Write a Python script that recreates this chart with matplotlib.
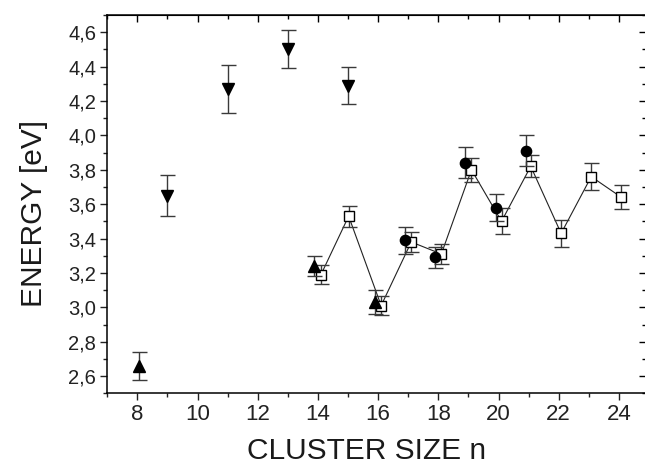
import matplotlib
matplotlib.use('Agg')
import matplotlib.pyplot as plt
from matplotlib.ticker import FuncFormatter, MultipleLocator

plt.rcParams['font.family'] = ['Liberation Sans', 'DejaVu Sans']

# === data ===
# downward triangles
n_down = [9, 11, 13, 15]
e_down = [3.65, 4.27, 4.50, 4.29]
err_down = [0.12, 0.14, 0.11, 0.11]

# upward triangles
n_up = [8.05, 13.86, 15.88]
e_up = [2.66, 3.24, 3.03]
err_up = [0.08, 0.06, 0.07]

# filled circles
n_circ = [16.88, 17.88, 18.88, 19.9, 20.9]
e_circ = [3.39, 3.29, 3.84, 3.58, 3.91]
err_circ = [0.08, 0.06, 0.09, 0.08, 0.09]

# open squares (connected)
n_sq = [14.1, 15.02, 16.1, 17.1, 18.1, 19.1, 20.1, 21.07, 22.08, 23.08, 24.08]
e_sq = [3.19, 3.53, 3.01, 3.38, 3.31, 3.80, 3.50, 3.82, 3.43, 3.76, 3.64]
err_sq = [0.055, 0.06, 0.055, 0.06, 0.06, 0.07, 0.075, 0.065, 0.08, 0.08, 0.07]

x_ticks = [8, 10, 12, 14, 16, 18, 20, 22, 24]
y_ticks = [2.6, 2.8, 3.0, 3.2, 3.4, 3.6, 3.8, 4.0, 4.2, 4.4, 4.6]

fig = plt.figure(figsize=(6.45, 4.65), dpi=100)
ax = fig.add_axes([107.3 / 645, 1 - 393.3 / 465, (646 - 107.3) / 645, (393.3 - 15) / 465])

ebkw = dict(ecolor='#3a3a3a', elinewidth=1.0, capsize=5.4, capthick=1.0)

ax.plot(n_sq, e_sq, '-', color='#222222', lw=0.8, zorder=2)
ax.errorbar(n_sq, e_sq, yerr=err_sq, fmt='s', ms=6.5, mfc='white', mec='black',
            mew=1.0, zorder=3, **ebkw)
ax.errorbar(n_down, e_down, yerr=err_down, fmt='v', ms=8.8, color='black', zorder=4, **ebkw)
ax.errorbar(n_up, e_up, yerr=err_up, fmt='^', ms=8.8, color='black', zorder=4, **ebkw)
ax.errorbar(n_circ, e_circ, yerr=err_circ, fmt='o', ms=7.4, color='black', zorder=4, **ebkw)

ax.set_xlim(7, 24.9)
ax.set_ylim(2.5, 4.7)
ax.set_xticks(x_ticks)
ax.set_yticks(y_ticks)
ax.xaxis.set_minor_locator(MultipleLocator(1))
ax.yaxis.set_minor_locator(MultipleLocator(0.1))

comma = FuncFormatter(lambda v, p: f'{v:.1f}'.replace('.', ','))
ax.yaxis.set_major_formatter(comma)

ax.tick_params(which='both', direction='out', top=False, right=False,
               width=1.0, color='#222222', labelcolor='#222222')
ax.tick_params(which='major', length=5)
ax.tick_params(which='minor', length=3)
ax.tick_params(axis='x', labelsize=16, pad=3)
ax.tick_params(axis='y', labelsize=14.5, pad=3)

# top and right ticks point inward
top = ax.secondary_xaxis('top')
top.set_xticks(x_ticks)
top.xaxis.set_minor_locator(MultipleLocator(1))
top.tick_params(which='both', direction='in', labeltop=False, width=1.0)
top.tick_params(which='major', length=5)
top.tick_params(which='minor', length=3)
right = ax.secondary_yaxis('right')
right.set_yticks(y_ticks)
right.yaxis.set_minor_locator(MultipleLocator(0.1))
right.tick_params(which='both', direction='in', labelright=False, width=1.0)
right.tick_params(which='major', length=5)
right.tick_params(which='minor', length=3)

for s in ax.spines.values():
    s.set_linewidth(1.1)

ax.set_xlabel('CLUSTER SIZE n', fontsize=21.5, color='#1a1a1a')
ax.set_ylabel('ENERGY [eV]', fontsize=21.5, color='#1a1a1a')
ax.xaxis.set_label_coords(0.482, -0.115)
ax.yaxis.set_label_coords(-0.110, 0.474)

fig.savefig('out.png', dpi=100)
